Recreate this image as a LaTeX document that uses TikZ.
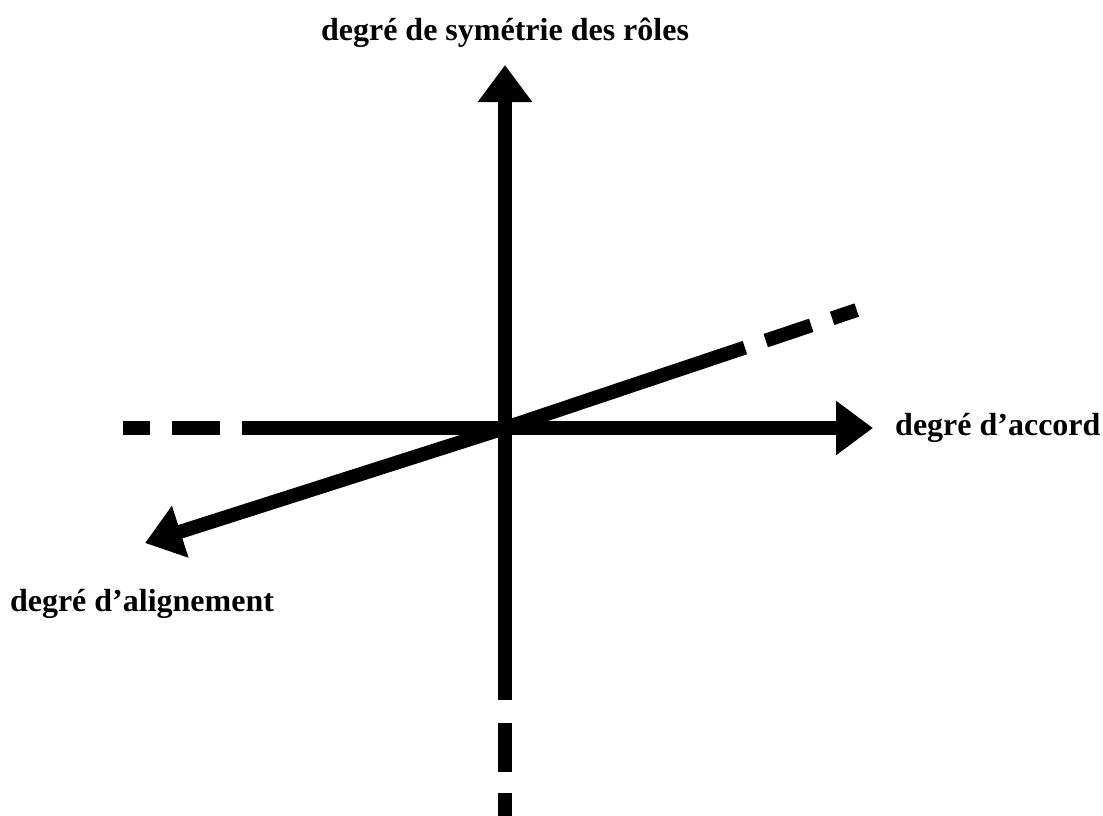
\documentclass[tikz,border=0pt]{standalone}
\usepackage{fontspec}
\setmainfont{Liberation Serif}
\usetikzlibrary{arrows.meta,positioning}

\begin{document}
\begin{tikzpicture}[
  x=1pt, y=-1pt,
  axis/.style={line width=14pt, -{Triangle[length=37pt, width=52pt]}},
  tail/.style={line width=14pt},
  lbl/.style={font=\fontsize{32}{36}\selectfont\bfseries, inner sep=0pt}
]
\useasboundingbox (0,0) rectangle (1103,816);

\coordinate (O) at (505,428);
\coordinate (topend) at (505,65);
\coordinate (rightend) at (873,428);
\coordinate (diagend) at (145,543);
\coordinate (bottomend) at (505,816);
\coordinate (leftend) at (123,428);
\coordinate (diagtail) at (857,310);

% axes with arrows
\draw[axis] (O) -- (topend);
\draw[axis] (O) -- (rightend);
\draw[axis] (O) -- (diagend);

% dashed tails
\draw[tail, dash pattern=on 272pt off 23pt on 49pt off 21pt on 40pt] (O) -- (bottomend);
\draw[tail, dash pattern=on 263pt off 22pt on 48pt off 22pt on 27pt] (O) -- (leftend);
\draw[tail, dash pattern=on 253pt off 22pt on 48pt off 22pt on 26pt] (O) -- (diagtail);

% labels
\node[lbl] (ysym) at (505,33) {degré de symétrie des rôles};
\node[lbl, anchor=west] (xacc) at (895,428) {degré d’accord};
\node[lbl] (zali) at (142,604) {degré d’alignement};
\end{tikzpicture}
\end{document}
